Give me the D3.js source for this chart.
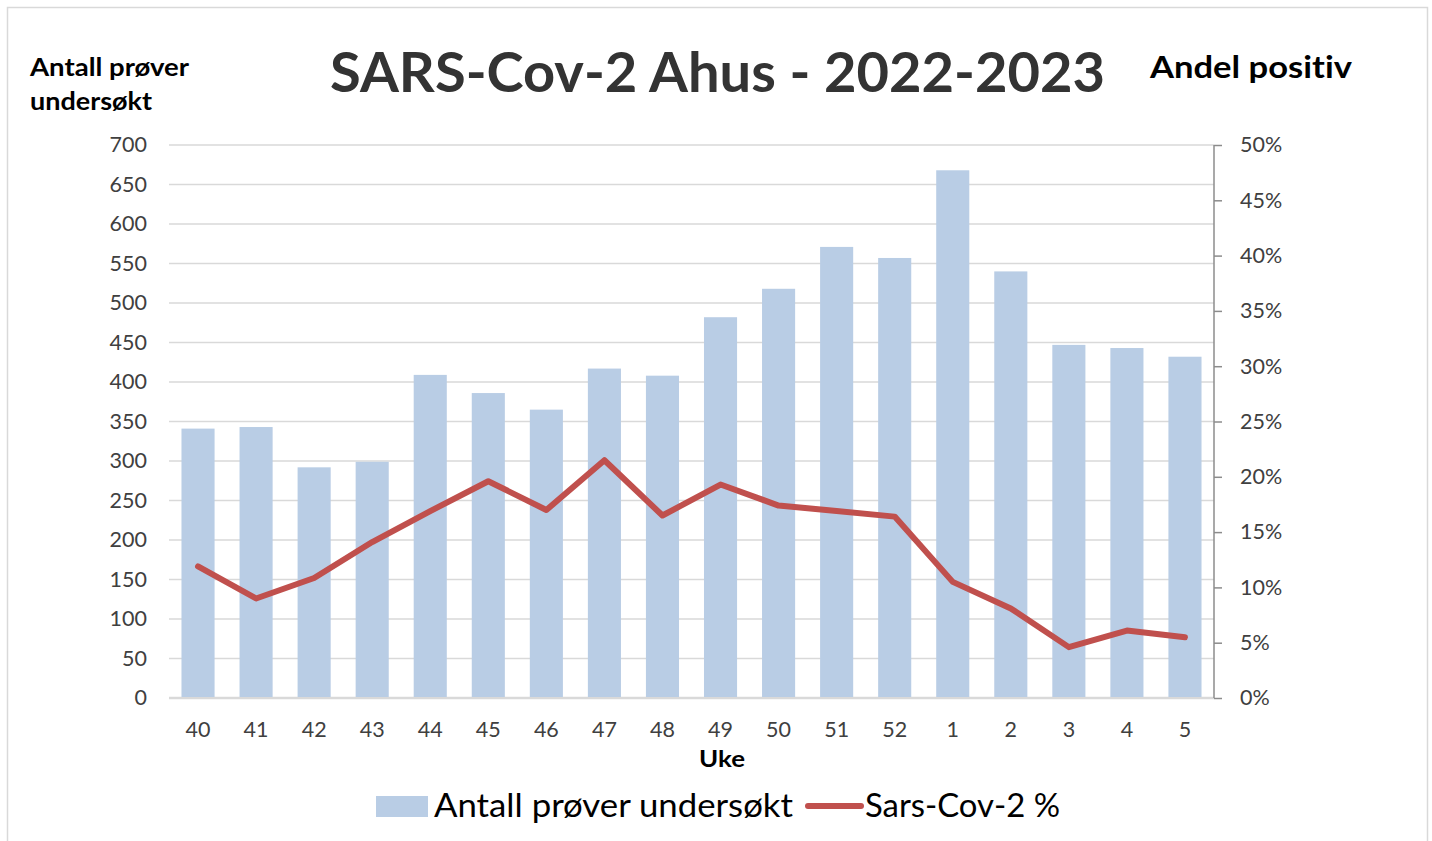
<!DOCTYPE html>
<html>
<head>
<meta charset="utf-8">
<script src="https://cdn.jsdelivr.net/npm/d3@7"></script>
<style>
  body { margin: 0; background: #fff; }
  svg { display: block; font-family: Lato, "Open Sans", sans-serif; font-variant-ligatures: none; }
</style>
</head>
<body>
<div id="chart"></div>
<script>
// Data
var weeks = ["40", "41", "42", "43", "44", "45", "46", "47", "48", "49", "50", "51", "52", "1", "2", "3", "4", "5"];
var samples = [341, 343, 292, 299, 409, 386, 365, 417, 408, 482, 518, 571, 557, 668, 540, 447, 443, 432];
var positivePct = [11.9, 9.0, 10.85, 14.1, 16.9, 19.6, 17.0, 21.5, 16.5, 19.3, 17.4, 16.9, 16.4, 10.5, 8.1, 4.6, 6.1, 5.5];
var leftTicks = d3.range(0, 701, 50);
var rightTicks = d3.range(0, 51, 5);

var W = 1432, H = 841;
var plot = {left: 169, right: 1214, top: 145, bottom: 698};

var svg = d3.select("#chart").append("svg")
            .attr("width", W)
            .attr("height", H);

// outer frame
svg.append("rect")
   .attr("x", 7.5).attr("y", 7.5)
   .attr("width", W - 12).attr("height", H)
   .attr("fill", "#fff")
   .attr("stroke", "#d9d9d9")
   .attr("stroke-width", 1.5);

// Scales
var x = d3.scaleBand()
          .domain(weeks)
          .range([plot.left, plot.right])
          .paddingInner(0.43)
          .paddingOuter(0.215);

var yLeft = d3.scaleLinear().domain([0, 700]).range([plot.bottom, plot.top]);
var yRight = d3.scaleLinear().domain([0, 50]).range([plot.bottom, plot.top]);

// Gridlines
svg.append("g")
   .selectAll("line")
   .data(leftTicks)
   .enter().append("line")
   .attr("x1", plot.left).attr("x2", plot.right)
   .attr("y1", d => yLeft(d)).attr("y2", d => yLeft(d))
   .attr("stroke", "#d9d9d9")
   .attr("stroke-width", d => d === 0 ? 2.5 : 1.5);

// Bars
svg.append("g")
   .selectAll("rect")
   .data(samples)
   .enter().append("rect")
   .attr("x", (d, i) => x(weeks[i]))
   .attr("y", d => yLeft(d))
   .attr("width", x.bandwidth())
   .attr("height", d => yLeft(0) - yLeft(d) - 1)
   .attr("fill", "#b9cde5");

// Left axis (labels only)
var leftAxis = d3.axisLeft(yLeft).tickValues(leftTicks).tickSize(0).tickPadding(0);
var gl = svg.append("g").attr("transform", "translate(147,0)").call(leftAxis);
gl.select(".domain").remove();
gl.selectAll("text")
  .attr("font-size", 21.5)
  .attr("fill", "#404040")
  .attr("font-family", "Lato, sans-serif");

// Right axis
var rightAxis = d3.axisRight(yRight).tickValues(rightTicks).tickSize(8).tickPadding(18)
                  .tickFormat(d => d + "%");
var gr = svg.append("g").attr("transform", "translate(" + plot.right + ",0)").call(rightAxis);
gr.select(".domain").attr("stroke", "#8c8c8c").attr("stroke-width", 1.5).attr("d", "M0," + plot.top + "V" + plot.bottom);
gr.selectAll("line").attr("stroke", "#8c8c8c").attr("stroke-width", 1.5);
gr.selectAll("text")
  .attr("font-size", 21.5)
  .attr("fill", "#404040")
  .attr("font-family", "Lato, sans-serif");

// Bottom axis labels
var bottomAxis = d3.axisBottom(x).tickSize(0).tickPadding(0);
var gb = svg.append("g").attr("transform", "translate(0,722)").call(bottomAxis);
gb.select(".domain").remove();
gb.selectAll("text")
  .attr("font-size", 21.5)
  .attr("fill", "#404040")
  .attr("font-family", "Lato, sans-serif");

// Line
var line = d3.line()
             .x((d, i) => x(weeks[i]) + x.bandwidth() / 2)
             .y(d => yRight(d));

svg.append("path")
   .datum(positivePct)
   .attr("d", line)
   .attr("fill", "none")
   .attr("stroke", "#c0504d")
   .attr("stroke-width", 6)
   .attr("stroke-linejoin", "round")
   .attr("stroke-linecap", "round");

// Titles (stretched to the widths seen in the original)
function label(xPos, yPos, size, txt, len, opts) {
  opts = opts || {};
  return svg.append("text")
     .attr("x", xPos).attr("y", yPos)
     .attr("font-size", size)
     .attr("font-weight", opts.bold ? "bold" : "normal")
     .attr("fill", opts.fill || "#000")
     .attr("textLength", len)
     .attr("lengthAdjust", "spacingAndGlyphs")
     .text(txt);
}

label(330, 92, 56, "SARS-Cov-2 Ahus - 2022-2023", 775, {bold: true, fill: "#333"});
label(30, 76, 25, "Antall prøver", 159, {bold: true});
label(30, 110, 25, "undersøkt", 122, {bold: true});
label(1150, 78, 31, "Andel positiv", 202, {bold: true});
label(699, 767, 23, "Uke", 46, {bold: true});

// Legend
var legend = svg.append("g");
legend.append("rect")
      .attr("x", 376).attr("y", 796)
      .attr("width", 52).attr("height", 21)
      .attr("fill", "#b9cde5");
label(434, 817, 33, "Antall prøver undersøkt", 359);
legend.append("line")
      .attr("x1", 808).attr("x2", 861)
      .attr("y1", 806).attr("y2", 806)
      .attr("stroke", "#c0504d")
      .attr("stroke-width", 6)
      .attr("stroke-linecap", "round");
label(865, 817, 33, "Sars-Cov-2 %", 195);
</script>
</body>
</html>
